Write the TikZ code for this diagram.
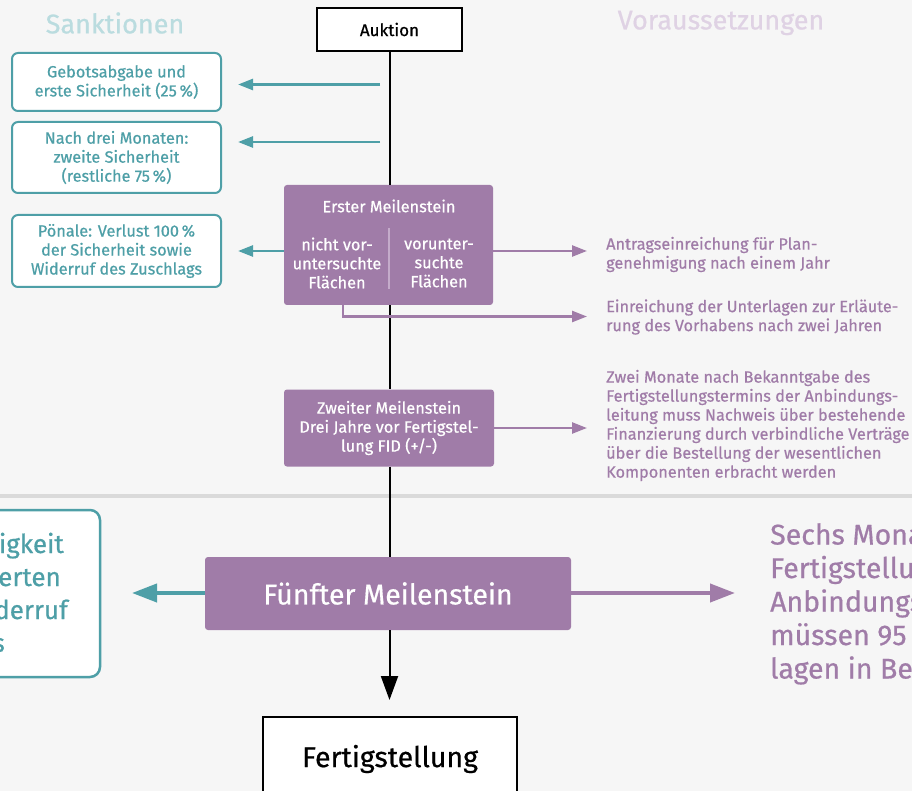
\documentclass[tikz,border=0pt]{standalone}
\usepackage{fontspec}
\setmainfont{Fira Sans}[FakeBold=0.6]
\usetikzlibrary{arrows.meta}
\definecolor{bgc}{HTML}{F6F6F6}
\definecolor{myteal}{HTML}{4E9FA7}
\definecolor{mypurple}{HTML}{A07CA8}
\definecolor{tealtitle}{HTML}{BADCDF}
\definecolor{purptitle}{HTML}{DFD2E4}
\definecolor{sepc}{HTML}{DADADA}
\definecolor{divc}{HTML}{C4ABCA}
\tikzset{
  small/.style={font=\fontsize{16.3}{19}\selectfont},
  big/.style={font=\fontsize{28.5}{33}\selectfont},
  frag/.style={text=myteal, font=\fontsize{26}{33}\selectfont, anchor=base east, inner sep=0pt},
  sanbox/.style={draw=myteal, line width=2pt, fill=white, rounded corners=6pt,
    text=myteal, align=center, minimum width=209pt, inner sep=0pt, small},
  milebox/.style={fill=mypurple, rounded corners=3pt, text=white, align=center, inner sep=0pt},
  startbox/.style={draw=black, line width=2pt, fill=white, inner sep=0pt, text=black},
  vline/.style={draw=black, line width=2pt},
  tarrow/.style={draw=myteal, line width=2.5pt, -{Triangle[length=15pt,width=11pt]}},
  parrow/.style={draw=mypurple, line width=2.5pt, -{Triangle[length=15pt,width=11pt]}},
  btarrow/.style={draw=myteal, line width=4pt, -{Triangle[length=25pt,width=18pt]}},
  bparrow/.style={draw=mypurple, line width=4pt, -{Triangle[length=25pt,width=18pt]}},
  ptext/.style={text=mypurple, align=left, inner sep=0pt, anchor=west, small},
}
\begin{document}
\begin{tikzpicture}[x=1pt,y=-1pt]
\fill[bgc] (0,0) rectangle (912,791);
\useasboundingbox (0,0) rectangle (912,791);
\fill[sepc] (0,493.5) rectangle (912,497.5);

% titles
\node[text=tealtitle, font=\fontsize{27}{30}\selectfont] (tsan) at (115,23) {Sanktionen};
\node[text=purptitle, font=\fontsize{27}{30}\selectfont] (tvor) at (721,23) {Voraussetzungen};

% main column
\node[startbox, minimum width=145pt, minimum height=43pt, font=\fontsize{17}{19}\selectfont] (auk) at (389.5,29.5) {Auktion};
\node[milebox, minimum width=209pt, minimum height=120pt] (m1) at (388.5,245) {};
\node[milebox, minimum width=210pt, minimum height=77pt, small] (m2) at (389,428)
  {Zweiter Meilenstein\\Drei Jahre vor Fertigstel-\\lung FID (+/-)};
\node[milebox, minimum width=366pt, minimum height=73pt, big] (m5) at (388,593.5) {Fünfter Meilenstein};
\node[startbox, minimum width=254pt, minimum height=84pt, big] (fer) at (390,759) {Fertigstellung};

% inside first milestone
\node[text=white, small, inner sep=0pt] (m1t) at (389,206) {Erster Meilenstein};
\node[text=white, small, align=center, inner sep=0pt] (m1l) at (337,263) {nicht vor-\\untersuchte\\Flächen};
\node[text=white, small, align=center, inner sep=0pt] (m1r) at (439,263) {vorunter-\\suchte\\Flächen};
\coordinate (d1) at (389,228);
\coordinate (d2) at (389,289);
\draw[divc, line width=1.5pt] (d1) -- (d2);

% vertical line
\draw[vline] (auk.south) -- (m1.north -| auk.south);
\draw[vline] (m1.south -| auk.south) -- (m2.north -| auk.south);
\draw[vline] (m2.south -| auk.south) -- (m5.north -| auk.south);
\coordinate (endtip) at (389.5,700);
\draw[draw=black, line width=2pt, -{Triangle[length=24pt,width=17pt]}] (m5.south -| auk.south) -- (endtip);

% sanction boxes
\node[sanbox, minimum height=58pt] (s1) at (116.5,82) {Gebotsabgabe und\\erste Sicherheit (25\,\%)};
\node[sanbox, minimum height=71pt] (s2) at (116.5,157.5) {Nach drei Monaten:\\zweite Sicherheit\\(restliche 75\,\%)};
\node[sanbox, minimum height=72pt] (s3) at (116.5,251) {Pönale: Verlust 100\,\%\\der Sicherheit sowie\\Widerruf des Zuschlags};

\coordinate (a1s) at (380,84.5);
\coordinate (a1e) at (238,84.5);
\coordinate (a2s) at (380,142);
\coordinate (a2e) at (238,142);
\coordinate (a3e) at (238,251);
\draw[tarrow] (a1s) -- (a1e);
\draw[tarrow] (a2s) -- (a2e);
\draw[tarrow] (m1.west |- a3e) -- (a3e);

% requirement texts
\node[ptext] (r1) at (606,254.5) {Antragseinreichung für Plan-\\genehmigung nach einem Jahr};
\node[ptext] (r2) at (606,317) {Einreichung der Unterlagen zur Erläute-\\rung des Vorhabens nach zwei Jahren};
\node[ptext] (r3) at (606,425.5) {Zwei Monate nach Bekanntgabe des\\Fertigstellungstermins der Anbindungs-\\leitung muss Nachweis über bestehende\\Finanzierung durch verbindliche Verträge\\über die Bestellung der wesentlichen\\Komponenten erbracht werden};

\coordinate (p1e) at (587,251);
\draw[parrow] (m1.east |- p1e) -- (p1e);
\coordinate (p2b) at (343,316.5);
\coordinate (p2e) at (587,316.5);
\draw[parrow] (m1.south -| p2b) -- (p2b) -- (p2e);
\coordinate (p3e) at (587,428);
\draw[parrow] (m2.east |- p3e) -- (p3e);

% bottom section
\node[draw=myteal, line width=2.5pt, fill=white, rounded corners=10pt, minimum width=260pt, minimum height=167pt] (s5) at (-30,593.5) {};
\node[frag] (s5a) at (64,553) {igkeit};
\node[frag] (s5b) at (61,586) {erten};
\node[frag] (s5c) at (68,619) {derruf};
\node[frag] (s5d) at (5,652) {s};

\coordinate (b1e) at (132,593);
\draw[btarrow] (m5.west |- b1e) -- (b1e);
\coordinate (b2e) at (735,593);
\draw[bparrow] (m5.east |- b2e) -- (b2e);

\node[text=mypurple, align=left, anchor=north west, inner sep=0pt, font=\fontsize{28.5}{33.5}\selectfont] (r5) at (770,523)
  {Sechs Mona\\Fertigstellu\\Anbindungs\\müssen 95\\lagen in Be};
\end{tikzpicture}
\end{document}
